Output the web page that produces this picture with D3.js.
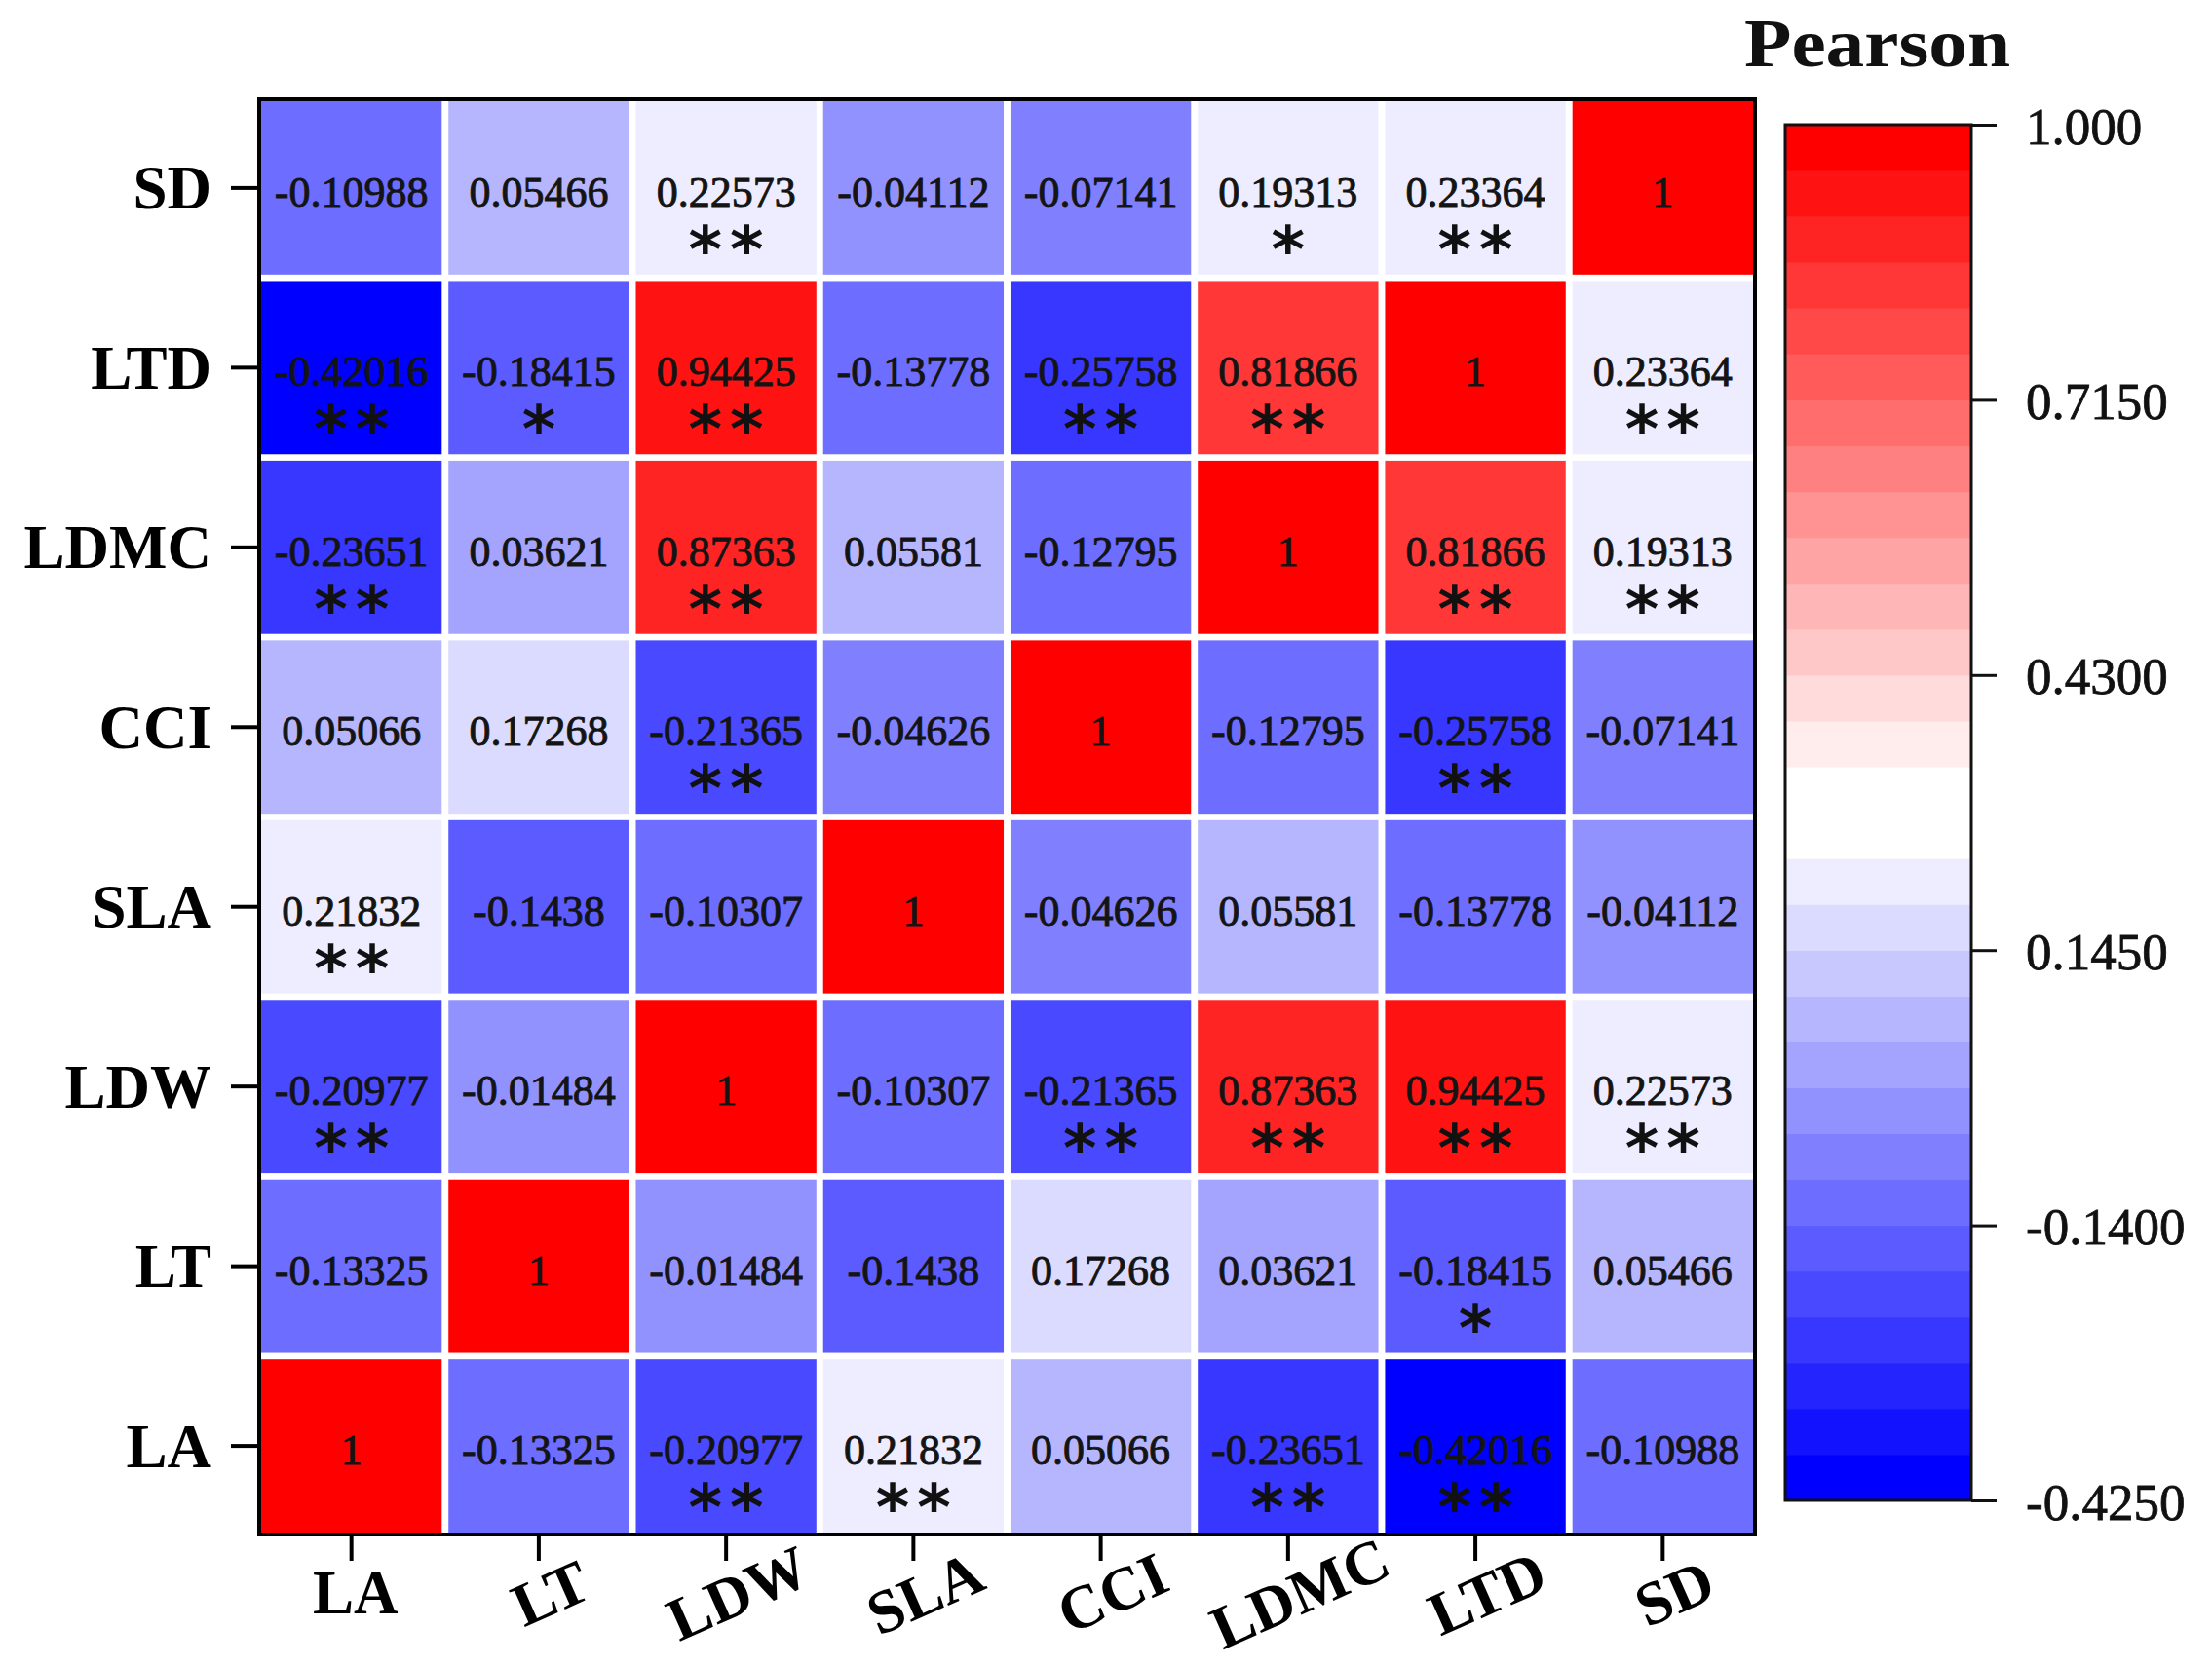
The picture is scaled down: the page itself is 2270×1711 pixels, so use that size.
<!DOCTYPE html>
<html>
<head>
<meta charset="utf-8">
<script src="https://cdn.jsdelivr.net/npm/d3@7"></script>
<style>
  html, body { margin: 0; padding: 0; background: #ffffff; }
  svg { display: block; }
</style>
</head>
<body>
<svg id="chart" width="2270" height="1711"></svg>
<script>
// ---------------- DATA ----------------
const categories = ["LA", "LT", "LDW", "SLA", "CCI", "LDMC", "LTD", "SD"];

// correlation rows (row i = categories[i], columns in categories order)
const rowLA   = [1, -0.13325, -0.20977, 0.21832, 0.05066, -0.23651, -0.42016, -0.10988];
const rowLT   = [-0.13325, 1, -0.01484, -0.1438, 0.17268, 0.03621, -0.18415, 0.05466];
const rowLDW  = [-0.20977, -0.01484, 1, -0.10307, -0.21365, 0.87363, 0.94425, 0.22573];
const rowSLA  = [0.21832, -0.1438, -0.10307, 1, -0.04626, 0.05581, -0.13778, -0.04112];
const rowCCI  = [0.05066, 0.17268, -0.21365, -0.04626, 1, -0.12795, -0.25758, -0.07141];
const rowLDMC = [-0.23651, 0.03621, 0.87363, 0.05581, -0.12795, 1, 0.81866, 0.19313];
const rowLTD  = [-0.42016, -0.18415, 0.94425, -0.13778, -0.25758, 0.81866, 1, 0.23364];
const rowSD   = [-0.10988, 0.05466, 0.22573, -0.04112, -0.07141, 0.19313, 0.23364, 1];

// significance marks as printed in each cell (same order)
const sigLA   = ["", "", "**", "**", "", "**", "**", ""];
const sigLT   = ["", "", "", "", "", "", "*", ""];
const sigLDW  = ["**", "", "", "", "**", "**", "**", "**"];
const sigSLA  = ["**", "", "", "", "", "", "", ""];
const sigCCI  = ["", "", "**", "", "", "", "**", ""];
const sigLDMC = ["**", "", "**", "", "", "", "**", "**"];
const sigLTD  = ["**", "*", "**", "", "**", "**", "", "**"];
const sigSD   = ["", "", "**", "", "", "*", "**", ""];

const corrRows = [rowLA, rowLT, rowLDW, rowSLA, rowCCI, rowLDMC, rowLTD, rowSD];
const sigRows  = [sigLA, sigLT, sigLDW, sigSLA, sigCCI, sigLDMC, sigLTD, sigSD];

const legendTitle = "Pearson";
const legendTicks = [1.0, 0.715, 0.43, 0.145, -0.14, -0.425];
const legendTickLabels = ["1.000", "0.7150", "0.4300", "0.1450", "-0.1400", "-0.4250"];
const colorMin = -0.425, colorMax = 1.0, nBands = 30;

// ---------------- LAYOUT ----------------
const svg = d3.select("#chart");
const plot = { left: 266, right: 1801, top: 102, bottom: 1575 };
const serif = "'Liberation Serif', 'Times New Roman', serif";

const x = d3.scaleBand().domain(categories)
  .range([plot.left + 2, plot.right - 2]).paddingInner(0.036).paddingOuter(0);
const y = d3.scaleBand().domain(categories.slice().reverse())
  .range([plot.top + 2, plot.bottom - 2]).paddingInner(0.036).paddingOuter(0);

// discrete colour bands: blue -> white -> red
const half = nBands / 2;
const bandColors = d3.range(nBands).map(k => k < half
  ? d3.interpolateRgb("#0000ff", "#ffffff")(k / (half - 1))
  : d3.interpolateRgb("#ffffff", "#ff0000")((k - half) / (half - 1)));
const color = d3.scaleQuantize().domain([colorMin, colorMax]).range(bandColors);

// cells
const cells = [];
categories.forEach((rc, i) => {
  categories.forEach((cc, j) => {
    cells.push({ row: rc, col: cc, v: corrRows[i][j], sig: sigRows[i][j] });
  });
});

const g = svg.append("g");
g.selectAll("rect.cell").data(cells).join("rect")
  .attr("class", "cell")
  .attr("x", d => x(d.col)).attr("y", d => y(d.row))
  .attr("width", x.bandwidth()).attr("height", y.bandwidth())
  .attr("fill", d => color(Math.min(d.v, colorMax - 1e-9)));

g.selectAll("text.val").data(cells).join("text")
  .attr("class", "val")
  .attr("x", d => x(d.col) + x.bandwidth() / 2)
  .attr("y", d => y(d.row) + y.bandwidth() / 2 + 19)
  .attr("text-anchor", "middle")
  .attr("font-family", serif).attr("font-size", 44)
  .attr("fill", "#141414").attr("stroke", "#141414").attr("stroke-width", 0.9)
  .text(d => String(d.v));

g.selectAll("text.sig").data(cells.filter(d => d.sig)).join("text")
  .attr("class", "sig")
  .attr("x", d => x(d.col) + x.bandwidth() / 2 + 4)
  .attr("y", d => y(d.row) + y.bandwidth() / 2 + 86)
  .attr("text-anchor", "middle")
  .attr("font-family", "'DejaVu Sans', sans-serif").attr("font-weight", "bold")
  .attr("font-size", 66).attr("letter-spacing", 8)
  .attr("fill", "#111")
  .text(d => d.sig);

// frame
svg.append("rect")
  .attr("x", plot.left).attr("y", plot.top)
  .attr("width", plot.right - plot.left).attr("height", plot.bottom - plot.top)
  .attr("fill", "none").attr("stroke", "#000").attr("stroke-width", 4);

// y axis
const yAxis = svg.append("g")
  .attr("transform", `translate(${plot.left - 2},0)`)
  .call(d3.axisLeft(y).tickSize(27).tickPadding(20));
yAxis.select(".domain").remove();
yAxis.selectAll(".tick line").attr("stroke", "#000").attr("stroke-width", 4);
yAxis.selectAll(".tick text")
  .attr("font-family", serif).attr("font-weight", "bold")
  .attr("font-size", 63).attr("fill", "#000").attr("dy", "0.34em");

// x axis
const xAxis = svg.append("g")
  .attr("transform", `translate(0,${plot.bottom + 2})`)
  .call(d3.axisBottom(x).tickSize(25).tickPadding(0));
xAxis.select(".domain").remove();
xAxis.selectAll(".tick line").attr("stroke", "#000").attr("stroke-width", 4);
xAxis.selectAll(".tick text")
  .attr("font-family", serif).attr("font-weight", "bold")
  .attr("font-size", 63).attr("fill", "#000")
  .attr("text-anchor", "middle")
  .attr("y", null).attr("dy", "0.34em")
  .attr("transform", (d, i) => i === 0
    ? "translate(4,58)"
    : "translate(12,58) rotate(-24)");

// ---------------- COLOUR BAR ----------------
const cb = { left: 1832, right: 2023, top: 128, bottom: 1540 };
const cy = d3.scaleLinear().domain([colorMin, colorMax]).range([cb.bottom, cb.top]);
const bandStep = (colorMax - colorMin) / nBands;
svg.append("g").selectAll("rect").data(bandColors).join("rect")
  .attr("x", cb.left)
  .attr("y", (c, k) => cy(colorMin + (k + 1) * bandStep))
  .attr("width", cb.right - cb.left)
  .attr("height", (c, k) => cy(colorMin + k * bandStep) - cy(colorMin + (k + 1) * bandStep) + 0.6)
  .attr("fill", c => c);
svg.append("rect")
  .attr("x", cb.left).attr("y", cb.top)
  .attr("width", cb.right - cb.left).attr("height", cb.bottom - cb.top)
  .attr("fill", "none").attr("stroke", "#111").attr("stroke-width", 3);

const cAxis = svg.append("g")
  .attr("transform", `translate(${cb.right},0)`)
  .call(d3.axisRight(cy).tickValues(legendTicks)
    .tickFormat((d, i) => legendTickLabels[i]).tickSize(26).tickPadding(30));
cAxis.select(".domain").remove();
cAxis.selectAll(".tick line").attr("stroke", "#111").attr("stroke-width", 3);
cAxis.selectAll(".tick text")
  .attr("font-family", serif).attr("font-size", 53).attr("fill", "#111")
  .attr("stroke", "#111").attr("stroke-width", 0.8)
  .attr("dy", "0.36em");

svg.append("text")
  .attr("x", 1790).attr("y", 68)
  .attr("font-family", serif).attr("font-weight", "bold")
  .attr("font-size", 70).attr("fill", "#111")
  .attr("textLength", 273).attr("lengthAdjust", "spacingAndGlyphs")
  .text(legendTitle);
</script>
</body>
</html>
